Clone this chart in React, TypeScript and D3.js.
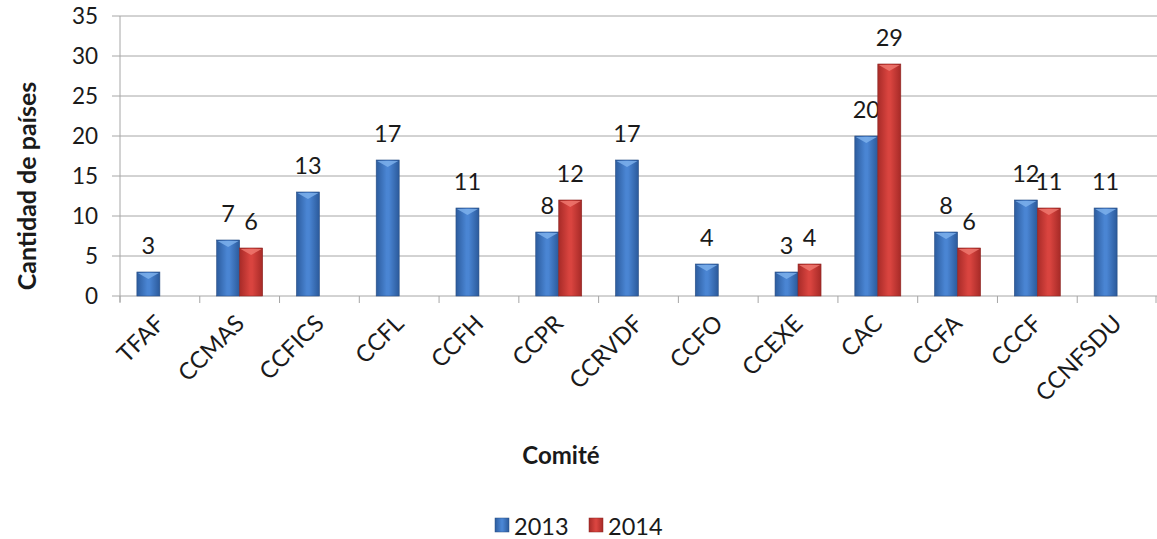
import React from "react";
import * as d3 from "d3";

const categories = ["TFAF","CCMAS","CCFICS","CCFL","CCFH","CCPR","CCRVDF","CCFO","CCEXE","CAC","CCFA","CCCF","CCNFSDU"];
const values2013: (number | null)[] = [3,7,13,17,11,8,17,4,3,20,8,12,11];
const values2014: (number | null)[] = [null,6,null,null,null,12,null,null,4,29,6,11,null];
const yTicks = [0,5,10,15,20,25,30,35];
const seriesNames = ["2013","2014"];

const W = 1157, H = 539;
const left = 120, right = 1157, top = 16, bottom = 296;
const FONT = "Lato, 'Open Sans', sans-serif";

export default function App() {
  const x = d3.scaleBand<string>().domain(categories).range([left, right]).padding(0);
  const y = d3.scaleLinear().domain([0, 35]).range([bottom, top]);
  const bw = 23;
  const series = [
    { name: seriesNames[0], vals: values2013, grad: "gBlue", off: -bw },
    { name: seriesNames[1], vals: values2014, grad: "gRed", off: 0 },
  ];
  return (
    <svg width={W} height={H} style={{ position: "absolute", left: 0, top: 0, background: "#fff" }} fontFamily={FONT}>
      <defs>
        <linearGradient id="gBlue" x1="0" x2="1" y1="0" y2="0">
          <stop offset="0" stopColor="#2c5c9e" />
          <stop offset="0.45" stopColor="#4a85d3" />
          <stop offset="0.55" stopColor="#4a85d3" />
          <stop offset="1" stopColor="#2b5a9b" />
        </linearGradient>
        <linearGradient id="gRed" x1="0" x2="1" y1="0" y2="0">
          <stop offset="0" stopColor="#a82b28" />
          <stop offset="0.45" stopColor="#d9443f" />
          <stop offset="0.55" stopColor="#d9443f" />
          <stop offset="1" stopColor="#a62a27" />
        </linearGradient>
      </defs>
      {yTicks.map(t => (
        <g key={t}>
          <line x1={left} x2={right} y1={y(t)} y2={y(t)} stroke="#a6a6a6" strokeWidth={1} />
          <line x1={left - 8} x2={left} y1={y(t)} y2={y(t)} stroke="#a6a6a6" strokeWidth={1} />
          <text x={left - 22} y={y(t)} dy="0.36em" textAnchor="end" fontSize={22.5} fill="#1a1a1a">{t}</text>
        </g>
      ))}
      <line x1={left} x2={left} y1={top} y2={bottom + 6} stroke="#a6a6a6" />
      {categories.map(c => (
        <line key={c} x1={x(c)!} x2={x(c)!} y1={bottom} y2={bottom + 7} stroke="#a6a6a6" />
      ))}
      <line x1={right - 1} x2={right - 1} y1={bottom} y2={bottom + 7} stroke="#a6a6a6" />
      {series.map(s => categories.map((c, i) => {
        const v = s.vals[i];
        if (v == null) return null;
        const cx = x(c)! + x.bandwidth() / 2 + s.off;
        const yt = y(v);
        return (
          <g key={s.name + c}>
            <rect x={cx} y={yt} width={bw} height={bottom - yt} fill={`url(#${s.grad})`} stroke={s.grad === "gBlue" ? "#2a4f85" : "#8c2523"} strokeWidth={0.6} />
            <path d={`M${cx + 1},${yt + 1} L${cx + bw - 1},${yt + 1} L${cx + bw / 2},${yt + 7} Z`} fill={s.grad === "gBlue" ? "#7fb3ee" : "#f07a72"} opacity={0.8} />
            <text x={cx + bw / 2} y={yt - 18} textAnchor="middle" fontSize={23.5} fill="#1a1a1a">{v}</text>
          </g>
        );
      }))}
      {categories.map(c => {
        const cx = x(c)! + x.bandwidth() / 2 + 6;
        return (
          <text key={c} transform={`translate(${cx},${bottom + 29}) rotate(-45)`} textAnchor="end" fontSize={23.5} fill="#1a1a1a">{c}</text>
        );
      })}
      <text transform={`translate(36,186) rotate(-90)`} textAnchor="middle" fontSize={25} fontWeight="bold" fill="#1a1a1a">Cantidad de países</text>
      <text x={561} y={464} textAnchor="middle" fontSize={24} fontWeight="bold" fill="#1a1a1a">Comité</text>
      <g>
        <rect x={495} y={518} width={14} height={14} fill="url(#gBlue)" stroke="#2a4f85" strokeWidth={0.5} />
        <text x={514} y={535} fontSize={23.5} fill="#1a1a1a">{seriesNames[0]}</text>
        <rect x={589} y={518} width={14} height={14} fill="url(#gRed)" stroke="#8c2523" strokeWidth={0.5} />
        <text x={608} y={535} fontSize={23.5} fill="#1a1a1a">{seriesNames[1]}</text>
      </g>
    </svg>
  );
}
